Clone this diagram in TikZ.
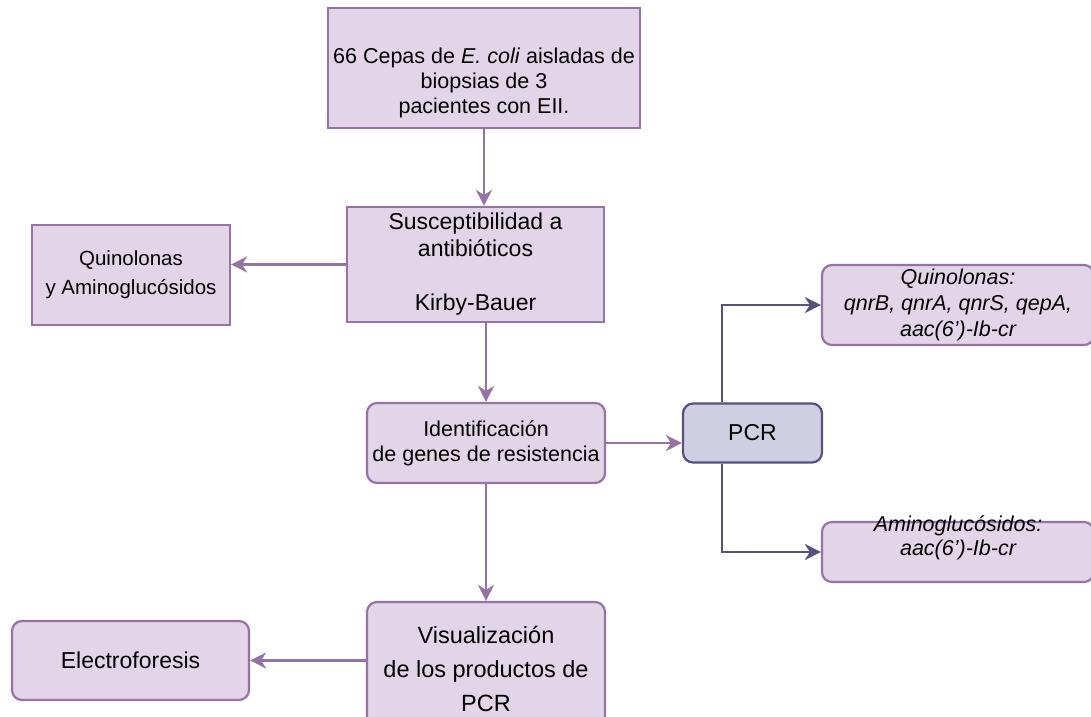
\documentclass[tikz,border=0pt]{standalone}
\usepackage{fontspec}
\setmainfont{Liberation Sans}
\usetikzlibrary{positioning, arrows.meta}

\definecolor{boxfill}{HTML}{E1D5E7}
\definecolor{boxline}{HTML}{9673A6}
\definecolor{pcrfill}{HTML}{D0CEE2}
\definecolor{pcrline}{HTML}{56517E}
\newcommand{\lift}[2]{\raisebox{#1}[\height][\depth]{\begin{tabular}{@{}c@{}}#2\end{tabular}}}

\begin{document}
\begin{tikzpicture}[x=1pt, y=-1pt,
    sqbox/.style={draw=boxline, fill=boxfill, line width=2.2pt, align=center, text=black, inner sep=0pt},
    rdbox/.style={sqbox, rounded corners=10pt},
    big/.style={font=\fontsize{23}{27}\selectfont},
    mid/.style={font=\fontsize{21.5}{25}\selectfont},
    arr/.style={draw=boxline, line width=2.4pt, -{Stealth[length=16pt, width=16pt, inset=5pt]}},
    arrpcr/.style={arr, draw=pcrline}]
    \useasboundingbox (0,0) rectangle (1091,716);
    \clip (0,0) rectangle (1091,716);
    % boxes
    \node [sqbox, mid, minimum width=312pt, minimum height=120pt] (cepas) at (484,68) {\lift{-15pt}{66 Cepas de \textit{E. coli} aisladas de\\biopsias de 3\\pacientes con EII.}};
    \node [sqbox, big, minimum width=257pt, minimum height=115pt] (suscept) at (475.5,264.5) {Susceptibilidad a\\antibióticos\\[27pt]Kirby-Bauer};
    \node [sqbox, font=\fontsize{20.5}{29}\selectfont, minimum width=198pt, minimum height=100pt] (quinamino) at (131,275) {Quinolonas\\y Aminoglucósidos};
    \node [rdbox, mid, minimum width=238pt, minimum height=80pt] (identif) at (486,443) {Identificación\\de genes de resistencia};
    \node [rdbox, big, draw=pcrline, fill=pcrfill, minimum width=139pt, minimum height=59pt] (pcr) at (752.5,433) {PCR};
    \node [rdbox, mid, font=\fontsize{21.5}{26}\selectfont\itshape, minimum width=272pt, minimum height=80pt] (quinol) at (958,305) {Quinolonas:\\qnrB, qnrA, qnrS, qepA,\\aac(6')-Ib-cr};
    \node [rdbox, font=\fontsize{21.5}{24}\selectfont\itshape, minimum width=272pt, minimum height=60pt] (aminog) at (958,552) {\lift{13.5pt}{Aminoglucósidos:\\aac(6')-Ib-cr}};
    \node [rdbox, font=\fontsize{23.5}{34}\selectfont, minimum width=238pt, minimum height=134pt] (visual) at (486,669) {Visualización\\de los productos de\\PCR};
    \node [rdbox, big, minimum width=237pt, minimum height=79pt] (electro) at (130.5,660.5) {Electroforesis};
    \coordinate (split) at (722,433);
    % connectors
    \draw [arr] (cepas) -- (cepas |- suscept.north);
    \draw [arr] (suscept.west) -- (suscept.west -| quinamino.east);
    \draw [arr] (suscept.south -| identif) -- (identif.north);
    \draw [arr] (identif.east) -- (identif.east -| pcr.west);
    \draw [arrpcr] (split |- pcr.north) |- (quinol.west);
    \draw [arrpcr] (split |- pcr.south) |- (aminog.west);
    \draw [arr] (identif.south) -- (visual.north);
    \draw [arr] (visual.west |- electro.east) -- (electro.east);
\end{tikzpicture}
\end{document}
